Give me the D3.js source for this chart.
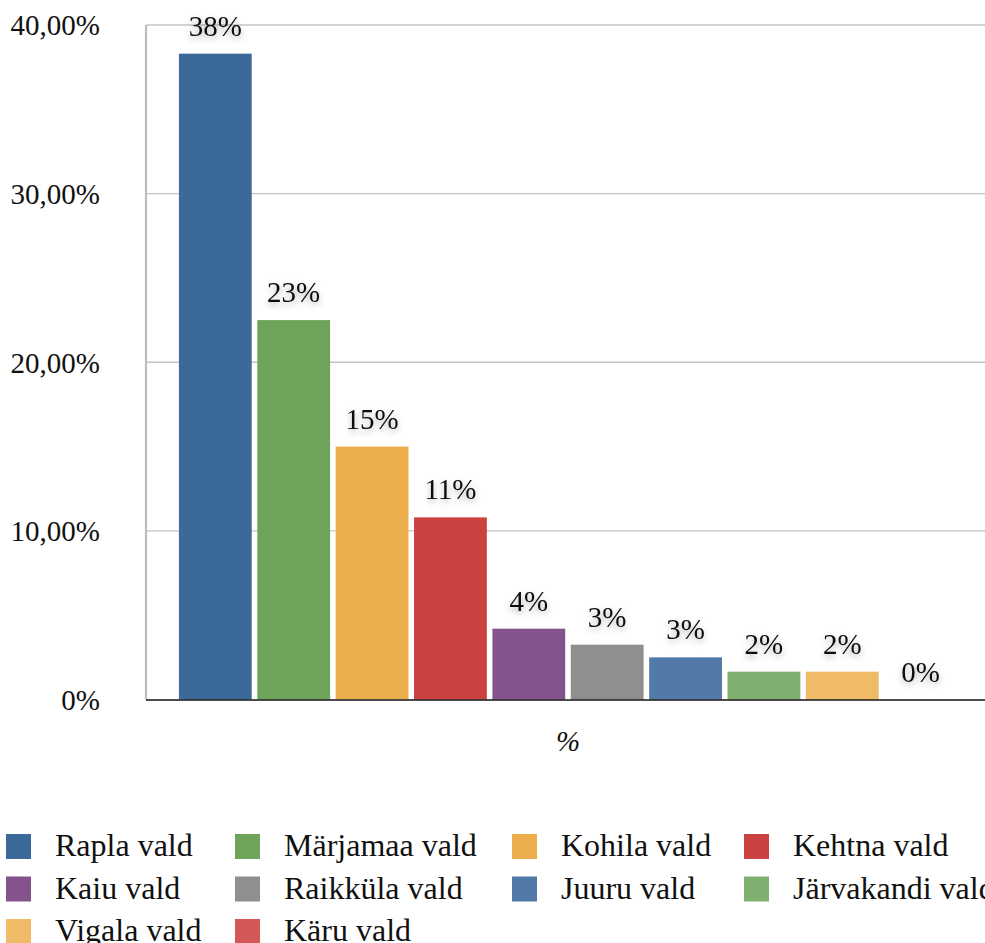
<!DOCTYPE html>
<html>
<head>
<meta charset="utf-8">
<script src="https://cdn.jsdelivr.net/npm/d3@7"></script>
<style>
  html, body { margin: 0; padding: 0; background: #fff; }
  svg { display: block; }
  text { font-family: "Liberation Serif", "Times New Roman", serif; fill: #111; }
</style>
</head>
<body>
<svg id="chart" width="985" height="943"></svg>
<script>
const categories = ["Rapla vald", "Märjamaa vald", "Kohila vald", "Kehtna vald", "Kaiu vald",
                    "Raikküla vald", "Juuru vald", "Järvakandi vald", "Vigala vald", "Käru vald"];
const values = [38.3, 22.5, 15.0, 10.8, 4.2, 3.25, 2.5, 1.65, 1.65, 0];
const valueLabels = ["38%", "23%", "15%", "11%", "4%", "3%", "3%", "2%", "2%", "0%"];
const colors = ["#3b6a9a", "#6ea35a", "#ecae4c", "#cb4240", "#84528c",
                "#8f8f8f", "#527aa8", "#80b06f", "#f0bb66", "#d35856"];
const yTicks = [0, 10, 20, 30, 40];
const yTickLabels = ["0%", "10,00%", "20,00%", "30,00%", "40,00%"];
const xAxisTitle = "%";

const svg = d3.select("#chart");
const plot = { left: 146, right: 990, top: 25, bottom: 699.5 };

const defs = svg.append("defs");
const f = defs.append("filter").attr("id", "shadow")
  .attr("x", "-30%").attr("y", "-30%").attr("width", "160%").attr("height", "180%");
f.append("feDropShadow").attr("dx", 0).attr("dy", 3).attr("stdDeviation", 3)
  .attr("flood-color", "#000").attr("flood-opacity", 0.3);

const x = d3.scaleBand().domain(categories)
  .range([plot.left, plot.right]).paddingInner(0.071).paddingOuter(0.42);
const y = d3.scaleLinear().domain([0, 40]).range([plot.bottom, plot.top]);

// gridlines
svg.append("g").selectAll("line").data(yTicks.filter(d => d > 0)).join("line")
  .attr("x1", plot.left).attr("x2", 985)
  .attr("y1", d => y(d)).attr("y2", d => y(d))
  .attr("stroke", "#c4c4c4").attr("stroke-width", 1.3);

// y axis
const yAxis = d3.axisLeft(y).tickValues(yTicks)
  .tickFormat((d, i) => yTickLabels[i]).tickSize(0).tickPadding(46);
const ya = svg.append("g").attr("transform", `translate(${plot.left},0)`).call(yAxis);
ya.select(".domain").remove();
ya.selectAll("text").attr("font-size", 29).attr("font-family", "Liberation Serif").attr("fill", "#111")
  .attr("dy", "0.34em");
svg.append("line").attr("x1", plot.left).attr("x2", plot.left)
  .attr("y1", plot.top).attr("y2", plot.bottom)
  .attr("stroke", "#bdbdbd").attr("stroke-width", 2.2);

// bars
svg.append("g").selectAll("rect").data(categories).join("rect")
  .attr("x", d => x(d)).attr("width", x.bandwidth())
  .attr("y", (d, i) => y(values[i])).attr("height", (d, i) => plot.bottom - y(values[i]))
  .attr("fill", (d, i) => colors[i]);

// x axis line
svg.append("line").attr("x1", plot.left).attr("x2", 985)
  .attr("y1", plot.bottom + 0.5).attr("y2", plot.bottom + 0.5)
  .attr("stroke", "#111").attr("stroke-width", 1.6);

// data labels
svg.append("g").selectAll("text").data(categories).join("text")
  .attr("x", d => x(d) + x.bandwidth() / 2)
  .attr("y", (d, i) => y(values[i]) - 18)
  .attr("text-anchor", "middle").attr("font-size", 29)
  .attr("filter", "url(#shadow)")
  .text((d, i) => valueLabels[i]);

// x axis title
svg.append("text").attr("x", (plot.left + plot.right) / 2).attr("y", 751)
  .attr("text-anchor", "middle").attr("font-size", 29).attr("font-style", "italic")
  .text(xAxisTitle);

// legend
const colX = [6, 235, 512, 744];
const rowY = [834, 876.5, 919];
const lg = svg.append("g").selectAll("g").data(categories).join("g")
  .attr("transform", (d, i) => `translate(${colX[i % 4]},${rowY[Math.floor(i / 4)]})`);
lg.append("rect").attr("width", 25).attr("height", 25).attr("fill", (d, i) => colors[i]);
lg.append("text").attr("x", 49).attr("y", 22).attr("font-size", 32).text(d => d);
</script>
</body>
</html>
